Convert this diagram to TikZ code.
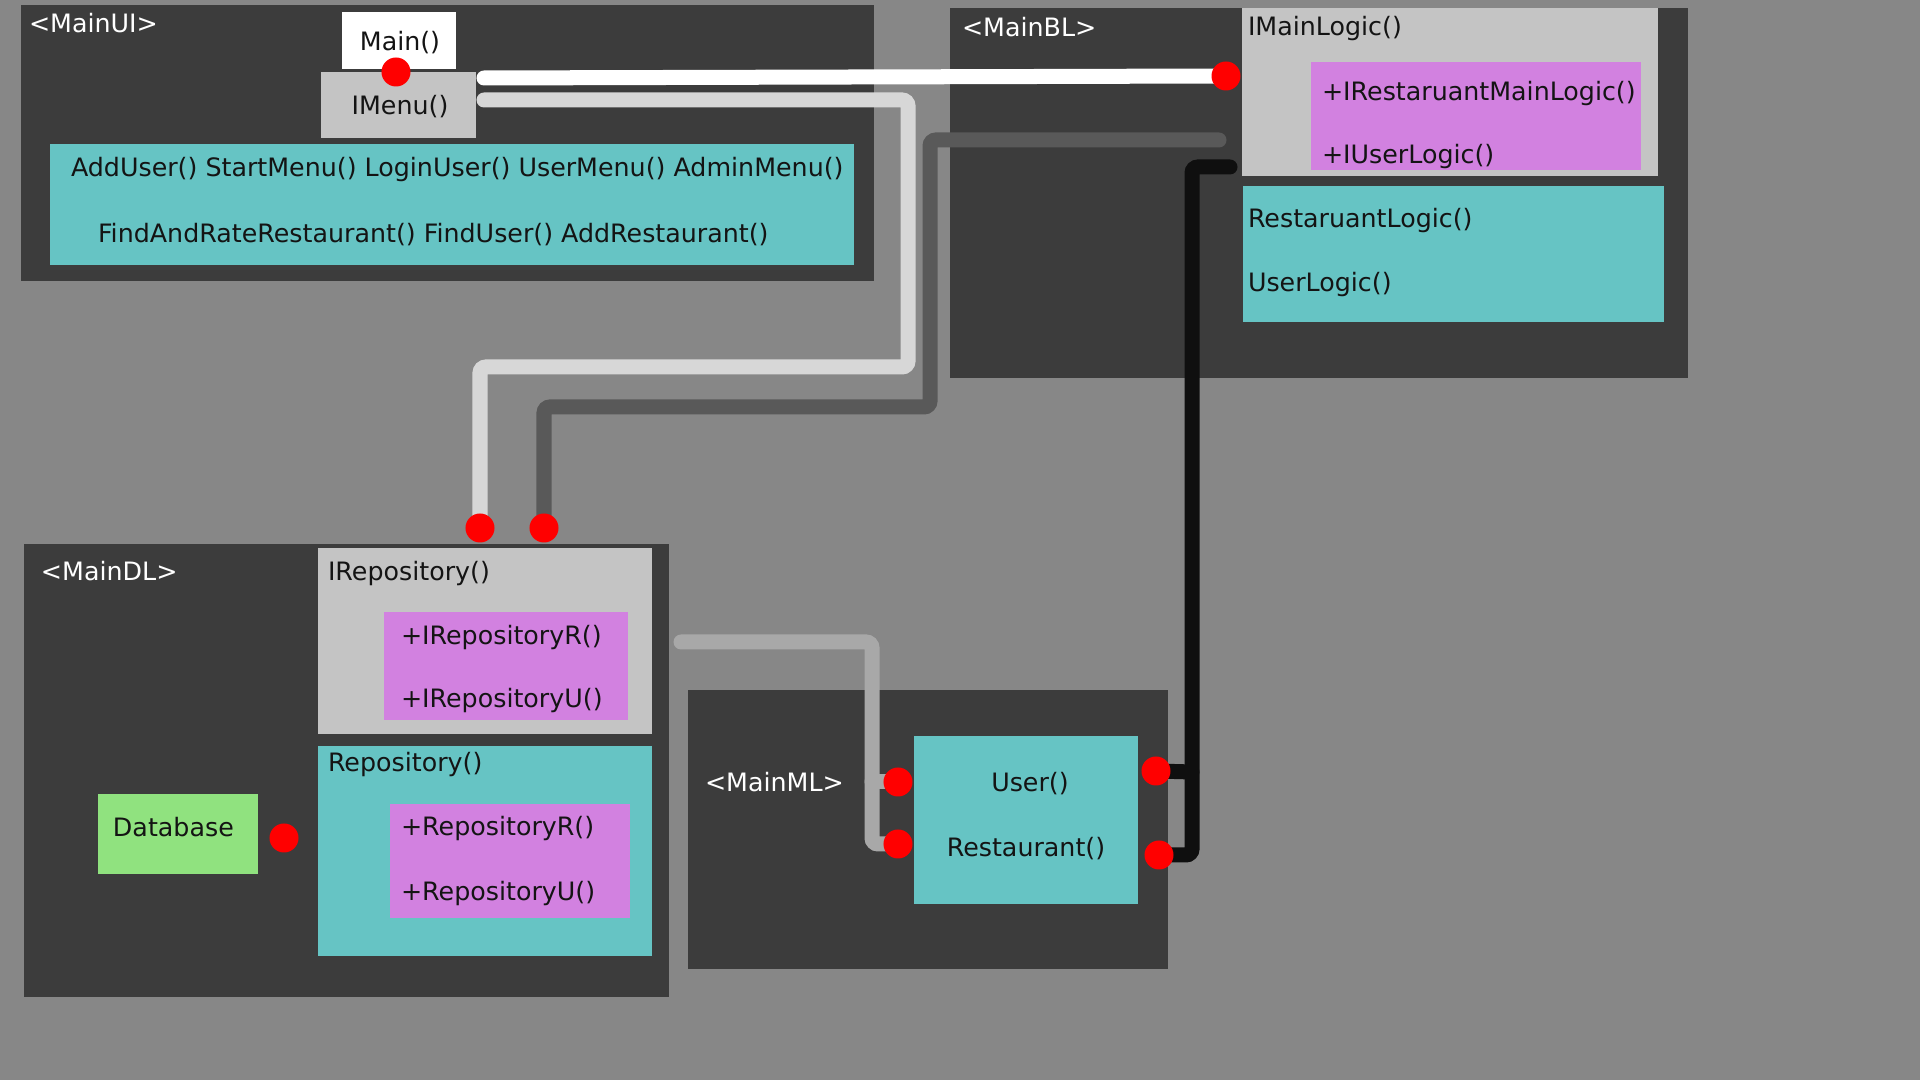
\documentclass[tikz,border=0pt]{standalone}
\usepackage{fontspec}
\setmainfont{DejaVu Sans}
\definecolor{canvas}{HTML}{878787}
\definecolor{panel}{HTML}{3C3C3C}
\definecolor{iface}{HTML}{C4C4C4}
\definecolor{impl}{HTML}{66C4C4}
\definecolor{member}{HTML}{D281E0}
\definecolor{store}{HTML}{90E27F}
\definecolor{dotred}{HTML}{FF0000}
\definecolor{wireA}{HTML}{FFFFFF}
\definecolor{wireB}{HTML}{D7D7D7}
\definecolor{wireC}{HTML}{595959}
\definecolor{wireD}{HTML}{0F0F0F}
\definecolor{wireE}{HTML}{A8A8A8}
\definecolor{ink}{HTML}{141414}
\begin{document}
\begin{tikzpicture}[x=0.01cm,y=-0.01cm,
  every node/.style={inner sep=0pt, outer sep=0pt, font=\fontsize{7.2pt}{8.6pt}\selectfont},
  block/.style={anchor=north west, draw=none},
  panelbox/.style={block, fill=panel},
  ifacebox/.style={block, fill=iface},
  implbox/.style={block, fill=impl},
  memberbox/.style={block, fill=member},
  storebox/.style={block, fill=store},
  title/.style={anchor=west, text=white},
  lbl/.style={anchor=west, text=ink, yshift=-0.02cm},
  clbl/.style={text=ink, yshift=-0.02cm},
  dot/.style={circle, fill=dotred, minimum size=0.29cm},
  wire/.style={line width=0.15cm, line cap=round, rounded corners=0.06cm}
]
% page
\fill[canvas] (0,0) rectangle (1920,1080);
\useasboundingbox (0,0) rectangle (1920,1080);

% ---------- UI layer ----------
\node[panelbox, minimum width=8.52cm, minimum height=2.76cm] (mainui) at (21,5) {};
\node[title] (tmainui) at (29,23) {<MainUI>};
\node[block, fill=white, minimum width=1.14cm, minimum height=0.57cm] (mainfn) at (342,12) {};
\node[clbl] (tmainfn) at (400,41) {Main()};
\node[ifacebox, minimum width=1.55cm, minimum height=0.66cm] (imenu) at (321,72) {};
\node[clbl] (timenu) at (400,105) {IMenu()};
\node[implbox, minimum width=8.04cm, minimum height=1.21cm] (menus) at (50,144) {};
\node[lbl] (tmenus1) at (71,168) {AddUser() StartMenu() LoginUser() UserMenu() AdminMenu()};
\node[lbl] (tmenus2) at (98,233) {FindAndRateRestaurant() FindUser() AddRestaurant()};

% ---------- BL layer ----------
\node[panelbox, minimum width=7.38cm, minimum height=3.70cm] (mainbl) at (950,8) {};
\node[title] (tmainbl) at (962,27) {<MainBL>};
\node[ifacebox, minimum width=4.16cm, minimum height=1.68cm] (imainlogic) at (1242,8) {};
\node[lbl] (timainlogic) at (1248,27) {IMainLogic()};
\node[memberbox, minimum width=3.30cm, minimum height=1.08cm] (blmembers) at (1311,62) {};
\node[lbl] (tblm1) at (1322,92) {+IRestaruantMainLogic()};
\node[lbl] (tblm2) at (1322,155) {+IUserLogic()};
\node[implbox, minimum width=4.21cm, minimum height=1.36cm] (logic) at (1243,186) {};
\node[lbl] (tlogic1) at (1248,219) {RestaruantLogic()};
\node[lbl] (tlogic2) at (1248,283) {UserLogic()};

% ---------- DL layer ----------
\node[panelbox, minimum width=6.45cm, minimum height=4.53cm] (maindl) at (24,544) {};
\node[title] (tmaindl) at (41,571) {<MainDL>};
\node[ifacebox, minimum width=3.34cm, minimum height=1.86cm] (irepo) at (318,548) {};
\node[lbl] (tirepo) at (328,572) {IRepository()};
\node[memberbox, minimum width=2.44cm, minimum height=1.08cm] (irepom) at (384,612) {};
\node[lbl] (tirepom1) at (401,636) {+IRepositoryR()};
\node[lbl] (tirepom2) at (401,699) {+IRepositoryU()};
\node[implbox, minimum width=3.34cm, minimum height=2.10cm] (repo) at (318,746) {};
\node[lbl] (trepo) at (328,763) {Repository()};
\node[memberbox, minimum width=2.40cm, minimum height=1.14cm] (repom) at (390,804) {};
\node[lbl] (trepom1) at (401,827) {+RepositoryR()};
\node[lbl] (trepom2) at (401,892) {+RepositoryU()};
\node[storebox, minimum width=1.60cm, minimum height=0.80cm] (db) at (98,794) {};
\node[lbl] (tdb) at (113,825) {Database};

% ---------- ML layer ----------
\node[panelbox, minimum width=4.80cm, minimum height=2.79cm] (mainml) at (688,690) {};
\node[title] (tmainml) at (705,782) {<MainML>};
\node[implbox, minimum width=2.24cm, minimum height=1.68cm] (models) at (914,736) {};
\node[clbl] (tuser) at (1030,782) {User()};
\node[clbl] (trest) at (1026,847) {Restaurant()};

% ---------- connection points ----------
\coordinate (pUI) at (396,72);
\coordinate (pBL) at (1226,76);
\coordinate (pDLa) at (480,528);
\coordinate (pDLb) at (544,528);
\coordinate (pDB) at (284,838);
\coordinate (pMLuL) at (898,782);
\coordinate (pMLrL) at (898,844);
\coordinate (pMLuR) at (1156,771);
\coordinate (pMLrR) at (1159,855);

\coordinate (wA0) at (484,78);
\coordinate (wB0) at (484,100);
\coordinate (wC0) at (1219,140);
\coordinate (wD0) at (1230,167);
\coordinate (wE0) at (681,642);

% ---------- wires ----------
\draw[wire, wireA] (wA0) -- (pBL);
\draw[wire, wireB] (wB0) -- (908,100) -- (908,367) -- (480,367) -- (pDLa);
\draw[wire, wireC] (wC0) -- (930,140) -- (930,407) -- (544,407) -- (pDLb);
\draw[wire, wireD] (wD0) -- (1192,167) -- (1192,855) -- (pMLrR);
\draw[wire, wireD] (1192,772) -- (pMLuR);
\draw[wire, wireE] (wE0) -- (872,642) -- (872,844) -- (pMLrL);
\draw[wire, wireE] (872,782) -- (pMLuL);

% ---------- dots ----------
\node[dot] (dUI) at (pUI) {};
\node[dot] (dBL) at (pBL) {};
\node[dot] (dDLa) at (pDLa) {};
\node[dot] (dDLb) at (pDLb) {};
\node[dot] (dDB) at (pDB) {};
\node[dot] (dMLuL) at (pMLuL) {};
\node[dot] (dMLrL) at (pMLrL) {};
\node[dot] (dMLuR) at (pMLuR) {};
\node[dot] (dMLrR) at (pMLrR) {};
\end{tikzpicture}
\end{document}
